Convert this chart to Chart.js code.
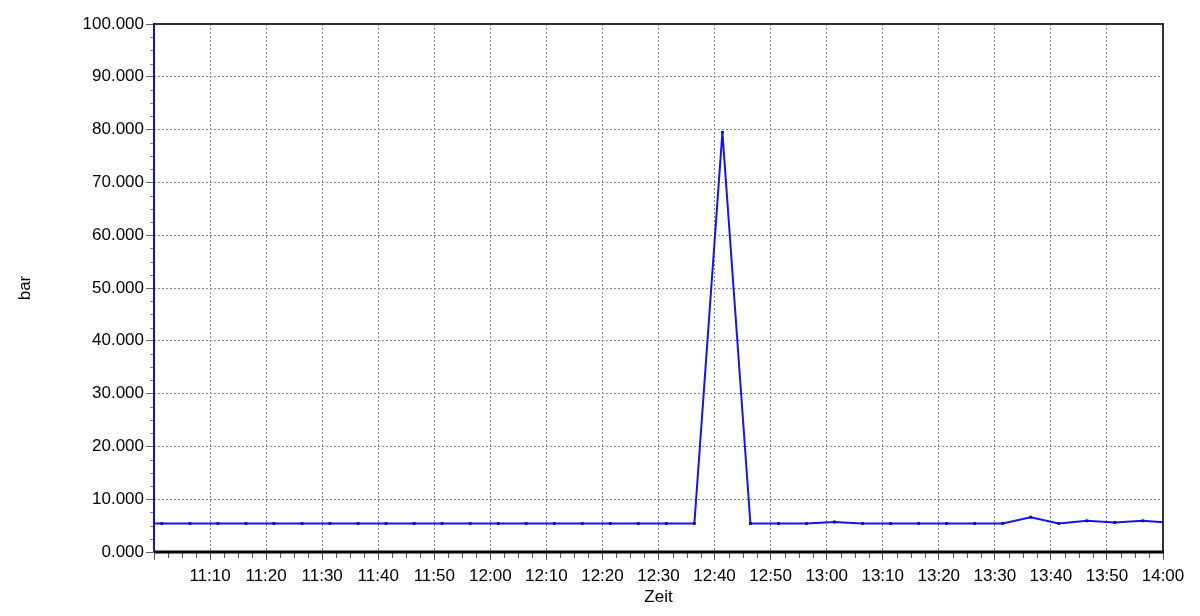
<!DOCTYPE html>
<html>
<head>
<meta charset="utf-8">
<script src="https://cdn.jsdelivr.net/npm/chart.js@4/dist/chart.umd.min.js"></script>
<style>
  body { margin: 0; background: #fff; }
  #wrap { width: 1200px; height: 616px; }
</style>
</head>
<body>
<div id="wrap"><canvas id="myChart" width="1200" height="616"></canvas></div>
<script>
// measurement times (hh:mm:ss) and pressure values in bar
const times = ["10:56:24","11:01:24","11:06:24","11:11:24","11:16:24","11:21:24","11:26:24","11:31:24",
  "11:36:24","11:41:24","11:46:24","11:51:24","11:56:24","12:01:24","12:06:24","12:11:24","12:16:24",
  "12:21:24","12:26:24","12:31:24","12:36:24","12:41:24","12:46:24","12:51:24","12:56:24","13:01:24",
  "13:06:24","13:11:24","13:16:24","13:21:24","13:26:24","13:31:24","13:36:24","13:41:24","13:46:24",
  "13:51:24","13:56:24","14:01:24"];
const pressure = [5.4,5.4,5.4,5.4,5.4,5.4,5.4,5.4,5.4,5.4,5.4,5.4,5.4,5.4,5.4,5.4,5.4,5.4,5.4,5.4,5.4,
  79.5,5.4,5.4,5.4,5.7,5.4,5.4,5.4,5.4,5.4,5.4,6.6,5.4,5.9,5.6,5.9,5.5];

const startHour = 11; // x axis starts at 11:00, ends at 14:00
const xMax = 180;
const yMax = 100;

function toMinutes(t) {
  const p = t.split(":").map(Number);
  return (p[0] - startHour) * 60 + p[1] + (p[2] || 0) / 60;
}
function fmtTime(m) {
  const h = startHour + Math.floor(m / 60);
  const mm = Math.round(m % 60);
  return h + ":" + String(mm).padStart(2, "0");
}

const points = times.map((t, i) => ({ x: toMinutes(t), y: pressure[i] }));

// draws the frame around the plot area and the small minor ticks
const frame = {
  id: "frame",
  beforeDatasetsDraw(chart) {
    const { ctx, chartArea: a, scales } = chart;
    ctx.save();
    // minor ticks x
    ctx.strokeStyle = "#555";
    ctx.lineWidth = 1;
    for (let v = 2.5; v < xMax; v += 2.5) {
      if (v % 10 === 0) continue;
      const px = Math.round(scales.x.getPixelForValue(v)) + 0.5;
      ctx.beginPath();
      ctx.moveTo(px, a.bottom);
      ctx.lineTo(px, a.bottom + 6);
      ctx.stroke();
    }
    // minor ticks y
    ctx.strokeStyle = "#9a6fb0";
    for (let v = 2.5; v < yMax; v += 2.5) {
      if (v % 10 === 0) continue;
      const py = Math.round(scales.y.getPixelForValue(v)) + 0.5;
      ctx.beginPath();
      ctx.moveTo(a.left - 4, py);
      ctx.lineTo(a.left, py);
      ctx.stroke();
    }
    // top and right border
    ctx.strokeStyle = "#333";
    ctx.lineWidth = 2;
    ctx.beginPath();
    ctx.moveTo(a.left, a.top);
    ctx.lineTo(a.right, a.top);
    ctx.lineTo(a.right, a.bottom);
    ctx.stroke();
    // bottom border
    ctx.strokeStyle = "#000";
    ctx.lineWidth = 3;
    ctx.beginPath();
    ctx.moveTo(a.left, a.bottom);
    ctx.lineTo(a.right + 1, a.bottom);
    ctx.stroke();
    // left border (blue)
    ctx.strokeStyle = "#1010d0";
    ctx.lineWidth = 2;
    ctx.beginPath();
    ctx.moveTo(a.left, a.top - 1);
    ctx.lineTo(a.left, a.bottom);
    ctx.stroke();
    ctx.restore();
  }
};

const font = { family: "'Liberation Sans', Arial, sans-serif", size: 17 };

const ctx = document.getElementById("myChart").getContext("2d");
new Chart(ctx, {
  type: "line",
  data: {
    datasets: [{
      label: "bar",
      data: points,
      borderColor: "#1414f0",
      borderWidth: 2,
      pointStyle: "rect",
      pointRadius: 2,
      pointBackgroundColor: "#1010a0",
      pointBorderWidth: 0,
      tension: 0
    }]
  },
  options: {
    responsive: false,
    animation: false,
    layout: { padding: { top: 24, right: 37, left: 0, bottom: 0 } },
    plugins: { legend: { display: false }, tooltip: { enabled: false } },
    scales: {
      x: {
        type: "linear",
        min: 0,
        max: xMax,
        afterFit: (s) => { s.height = 64; },
        ticks: {
          stepSize: 10,
          autoSkip: false,
          maxRotation: 0,
          padding: 6,
          color: "#000",
          font: font,
          callback: (v) => (v === 0 ? "" : fmtTime(v))
        },
        grid: { color: "#888", lineWidth: 1, tickLength: 8, tickColor: "#555" },
        border: { display: false, dash: [2, 2] },
        title: { display: true, text: "Zeit", color: "#000", font: font, padding: { top: 0, bottom: 8 } }
      },
      y: {
        min: 0,
        max: yMax,
        afterFit: (s) => { s.width = 154; },
        ticks: {
          stepSize: 10,
          padding: 2,
          color: "#000",
          font: font,
          callback: (v) => v.toFixed(3)
        },
        grid: { color: "#888", lineWidth: 1, tickLength: 8, tickColor: "#666" },
        border: { display: false, dash: [2, 2] },
        title: { display: true, text: "bar", color: "#000", font: font, padding: { top: 15, bottom: 0 } }
      }
    }
  },
  plugins: [frame]
});
</script>
</body>
</html>
